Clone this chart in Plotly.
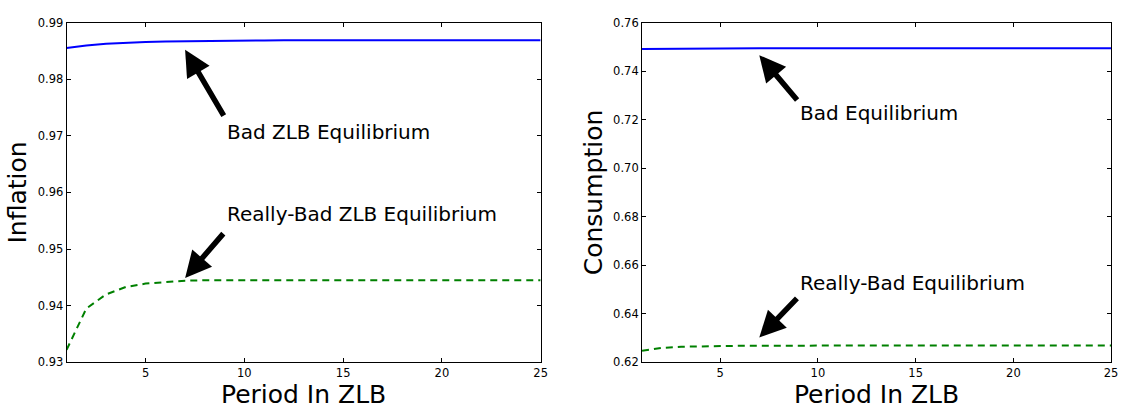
import plotly.graph_objects as go

periods = list(range(1, 26))

inflation_bad = [0.98550, 0.98595, 0.98625, 0.98645, 0.98658, 0.98666, 0.98672, 0.98677,
                 0.98680, 0.98683, 0.98685, 0.98687, 0.98688, 0.98689, 0.98690, 0.98690,
                 0.98690, 0.98690, 0.98690, 0.98690, 0.98690, 0.98690, 0.98690, 0.98690, 0.98690]
inflation_really_bad = [0.9322, 0.9395, 0.9420, 0.9433, 0.9439, 0.9442, 0.9444, 0.9445,
                        0.9445, 0.9445, 0.9445, 0.9445, 0.9445, 0.9445, 0.9445, 0.9445,
                        0.9445, 0.9445, 0.9445, 0.9445, 0.9445, 0.9445, 0.9445, 0.9445, 0.9445]
consumption_bad = [0.7491, 0.7492, 0.7493, 0.7493, 0.7494, 0.7494, 0.7494, 0.7494,
                   0.7494, 0.7494, 0.7494, 0.7494, 0.7494, 0.7494, 0.7494, 0.7494,
                   0.7494, 0.7494, 0.7494, 0.7494, 0.7494, 0.7494, 0.7494, 0.7494, 0.7494]
consumption_really_bad = [0.6248, 0.6259, 0.6264, 0.6266, 0.6267, 0.6268, 0.6268, 0.6269,
                          0.6269, 0.6269, 0.6269, 0.6269, 0.6269, 0.6269, 0.6269, 0.6269,
                          0.6269, 0.6269, 0.6269, 0.6269, 0.6269, 0.6269, 0.6269, 0.6269, 0.6269]

x_ticks = [5, 10, 15, 20, 25]
infl_ticks = [0.93, 0.94, 0.95, 0.96, 0.97, 0.98, 0.99]
cons_ticks = [0.62, 0.64, 0.66, 0.68, 0.70, 0.72, 0.74, 0.76]

FONT = "DejaVu Sans"

fig = go.Figure()
fig.add_trace(go.Scatter(x=periods, y=inflation_bad, mode="lines",
                         line=dict(color="#0000ff", width=2), xaxis="x", yaxis="y"))
fig.add_trace(go.Scatter(x=periods, y=inflation_really_bad, mode="lines",
                         line=dict(color="#008000", width=2, dash="7px,5px"), xaxis="x", yaxis="y"))
fig.add_trace(go.Scatter(x=periods, y=consumption_bad, mode="lines",
                         line=dict(color="#0000ff", width=2), xaxis="x2", yaxis="y2"))
fig.add_trace(go.Scatter(x=periods, y=consumption_really_bad, mode="lines",
                         line=dict(color="#008000", width=2, dash="7px,5px"), xaxis="x2", yaxis="y2"))

ydom = [0.114, 0.961]
common_x = dict(range=[1, 25], tickvals=x_ticks, ticks="inside", ticklen=4, tickcolor="black",
                showline=True, linecolor="black", linewidth=1, mirror="allticks",
                showgrid=False, zeroline=False,
                tickfont=dict(family=FONT, size=11.5, color="black"),
                title=dict(text="Period In ZLB", font=dict(family=FONT, size=25, color="black"), standoff=3))
common_y = dict(ticks="inside", ticklen=4, tickcolor="black",
                showline=True, linecolor="black", linewidth=1, mirror="allticks",
                showgrid=False, zeroline=False, domain=ydom,
                tickfont=dict(family=FONT, size=11.5, color="black"))

fig.update_layout(
    width=1136, height=415,
    margin=dict(l=0, r=0, t=0, b=0),
    paper_bgcolor="white", plot_bgcolor="white",
    showlegend=False,
    font=dict(family=FONT, color="black"),
    xaxis=dict(domain=[67/1136, 544/1136], anchor="y", **common_x),
    yaxis=dict(anchor="x", range=[0.93, 0.99], tickvals=infl_ticks, tickformat=".2f",
               title=dict(text="Inflation", font=dict(family=FONT, size=25, color="black"), standoff=3),
               **common_y),
    xaxis2=dict(domain=[646/1136, 1118/1136], anchor="y2", **common_x),
    yaxis2=dict(anchor="x2", range=[0.62, 0.76], tickvals=cons_ticks, tickformat=".2f",
                title=dict(text="Consumption", font=dict(family=FONT, size=25, color="black"), standoff=3),
                **common_y),
)

def arrow(xr, yr, x, y, ax, ay):
    fig.add_annotation(xref=xr, yref=yr, axref=xr, ayref=yr, x=x, y=y, ax=ax, ay=ay,
                       text="", showarrow=True, arrowhead=2, arrowsize=0.95, arrowwidth=5.5,
                       arrowcolor="black", standoff=0, startstandoff=0)

def label(xr, yr, x, y, t):
    fig.add_annotation(xref=xr, yref=yr, x=x, y=y, text=t, showarrow=False,
                       xanchor="left", yanchor="middle",
                       font=dict(family=FONT, size=20, color="black"))

arrow("x", "y", 7, 0.9852, 9, 0.9733)
label("x", "y", 9, 0.9706, "Bad ZLB Equilibrium")
arrow("x", "y", 7, 0.9449, 9, 0.9530)
label("x", "y", 9, 0.9562, "Really-Bad ZLB Equilibrium")
arrow("x2", "y2", 7, 0.7466, 9, 0.7275)
label("x2", "y2", 9, 0.7227, "Bad Equilibrium")
arrow("x2", "y2", 7, 0.6302, 9, 0.6470)
label("x2", "y2", 9, 0.6526, "Really-Bad Equilibrium")

fig.write_html("out.html")
